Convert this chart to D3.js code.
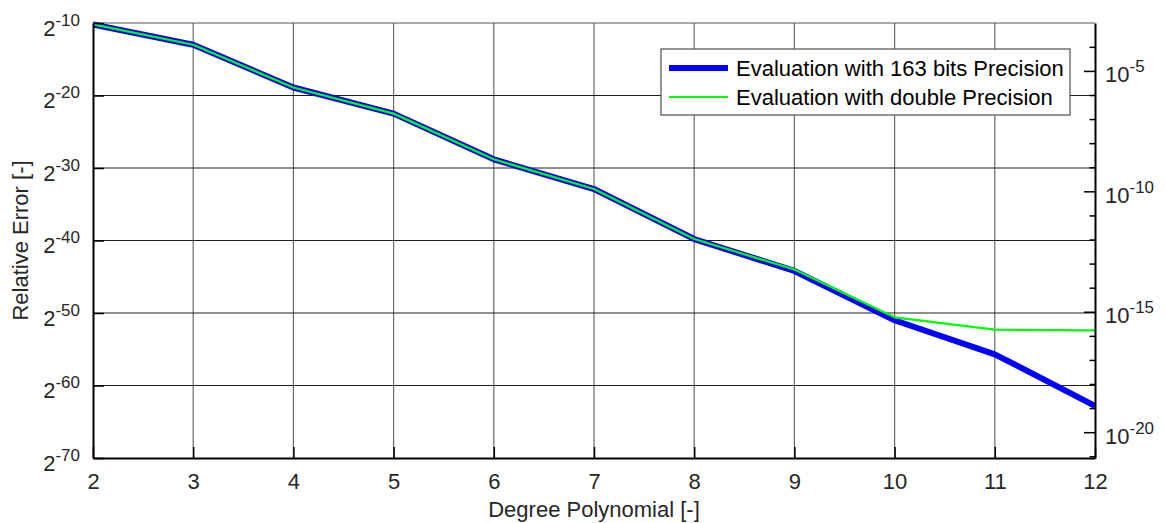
<!DOCTYPE html>
<html>
<head>
<meta charset="utf-8">
<script src="https://cdn.jsdelivr.net/npm/d3@7"></script>
<style>
  html, body { margin: 0; padding: 0; background: #fff; }
  svg { display: block; font-family: "Liberation Sans", Arial, Helvetica, sans-serif; }
</style>
</head>
<body>
<svg id="chart" width="1166" height="523"></svg>
<script>
// Polynomial degree on the x axis
const degrees = [2, 3, 4, 5, 6, 7, 8, 9, 10, 11, 12];
// log2 of the relative error for each evaluation
const log2Err163 = [-10.2, -13.0, -18.9, -22.5, -28.8, -32.9, -39.8, -44.2, -51.0, -55.7, -62.8];
const log2ErrDouble = [-10.2, -13.0, -18.9, -22.5, -28.8, -32.9, -39.8, -44.0, -50.6, -52.3, -52.4];
// Axis ticks
const xTicks = [2, 3, 4, 5, 6, 7, 8, 9, 10, 11, 12];
const leftExps = [-70, -60, -50, -40, -30, -20, -10];
const rightExps = [-4, -5, -6, -7, -8, -9, -10, -11, -12, -13, -14, -15, -16, -17, -18, -19, -20, -21];
const rightLabelled = [-5, -10, -15, -20];
const seriesNames = ["Evaluation with 163 bits Precision", "Evaluation with double Precision"];

const svg = d3.select("#chart");
const L = 93, R = 1095, T = 23, B = 458;
const FS = 22, SUP = 17;

const x = d3.scaleLinear().domain([2, 12]).range([L, R]);
const y = d3.scaleLog().base(2).domain([2 ** -70, 2 ** -10]).range([B, T]);

// Grid
const grid = svg.append("g");
grid.selectAll("line.v").data(xTicks.slice(1, -1)).join("line")
  .attr("x1", d => x(d)).attr("x2", d => x(d)).attr("y1", T).attr("y2", B)
  .attr("stroke", "#6a6a6a").attr("stroke-width", 1.2);
grid.selectAll("line.h").data(leftExps.slice(1, -1)).join("line")
  .attr("x1", L).attr("x2", R).attr("y1", d => y(2 ** d)).attr("y2", d => y(2 ** d))
  .attr("stroke", "#1e1e1e").attr("stroke-width", 1.2);
// top border
svg.append("line").attr("x1", L).attr("x2", R).attr("y1", T).attr("y2", T)
  .attr("stroke", "#555").attr("stroke-width", 1.2);

// Lines
const line = (vals) => d3.line()
  .x((d, i) => x(degrees[i]))
  .y(d => y(2 ** d))(vals);
svg.append("path").attr("d", line(log2Err163))
  .attr("fill", "none").attr("stroke", "#0000ff").attr("stroke-width", 6)
  .attr("stroke-linejoin", "round");
svg.append("path").attr("d", line(log2ErrDouble))
  .attr("fill", "none").attr("stroke", "#00ff00").attr("stroke-width", 2.2)
  .attr("stroke-linejoin", "round");

// Bottom axis
const gx = svg.append("g").attr("transform", `translate(0,${B})`)
  .call(d3.axisBottom(x).tickValues(xTicks).tickFormat(d3.format("d"))
    .tickSizeInner(-11).tickSizeOuter(0).tickPadding(15));
gx.select(".domain").attr("stroke", "#000").attr("stroke-width", 2);
gx.selectAll(".tick line").attr("stroke", "#000").attr("stroke-width", 1.5);
gx.selectAll("text").attr("font-size", FS).attr("fill", "#262626").attr("font-family", null);

// Left axis with 2^n labels
const gy = svg.append("g").attr("transform", `translate(${L},0)`)
  .call(d3.axisLeft(y).tickValues(leftExps.map(e => 2 ** e))
    .tickSizeInner(-11).tickSizeOuter(0).tickPadding(13).tickFormat(() => ""));
gy.select(".domain").attr("stroke", "#000").attr("stroke-width", 2);
gy.selectAll(".tick line").attr("stroke", "#000").attr("stroke-width", 1.5);
gy.selectAll(".tick text").each(function(d) {
  const t = d3.select(this).attr("font-size", FS).attr("fill", "#262626")
    .attr("font-family", null).attr("dy", null).attr("y", 12);
  const e = Math.round(Math.log2(d));
  t.append("tspan").text("2");
  t.append("tspan").attr("font-size", SUP).attr("dy", -10).text(String(e));
});

// Right axis with decade ticks
const gr = svg.append("g").attr("transform", `translate(${R},0)`)
  .call(d3.axisRight(y).tickValues(rightExps.map(e => 10 ** e))
    .tickSizeInner(-11).tickSizeOuter(0).tickPadding(10).tickFormat(() => ""));
gr.select(".domain").attr("stroke", "#000").attr("stroke-width", 2);
gr.selectAll(".tick line").attr("stroke", "#000").attr("stroke-width", 1.5)
  .attr("x2", (d, i) => rightLabelled.includes(rightExps[i]) ? -11 : -5.5);
gr.selectAll(".tick text").each(function(d, i) {
  const e = rightExps[i];
  const t = d3.select(this).attr("font-size", FS).attr("fill", "#262626")
    .attr("font-family", null).attr("dy", null).attr("y", 11);
  if (!rightLabelled.includes(e)) return;
  t.append("tspan").text("10");
  t.append("tspan").attr("font-size", SUP).attr("dy", -10).text(String(e));
});

// Axis titles
svg.append("text").attr("x", (L + R) / 2).attr("y", 517).attr("text-anchor", "middle")
  .attr("font-size", FS).attr("fill", "#262626").text("Degree Polynomial [-]");
svg.append("text").attr("transform", `translate(28,${(T + B) / 2}) rotate(-90)`)
  .attr("text-anchor", "middle").attr("font-size", FS).attr("fill", "#262626")
  .text("Relative Error [-]");

// Legend
const lg = svg.append("g");
lg.append("rect").attr("x", 661).attr("y", 49).attr("width", 409).attr("height", 66)
  .attr("fill", "#fff").attr("stroke", "#4d4d4d").attr("stroke-width", 1.2);
const legendStyles = [{ c: "#0000ff", w: 6, yy: 68 }, { c: "#00ff00", w: 2.2, yy: 97 }];
seriesNames.forEach((name, i) => {
  const s = legendStyles[i];
  lg.append("line").attr("x1", 669).attr("x2", 728).attr("y1", s.yy).attr("y2", s.yy)
    .attr("stroke", s.c).attr("stroke-width", s.w);
  lg.append("text").attr("x", 736).attr("y", s.yy + 8).attr("font-size", FS)
    .attr("fill", "#000").text(name);
});
</script>
</body>
</html>
